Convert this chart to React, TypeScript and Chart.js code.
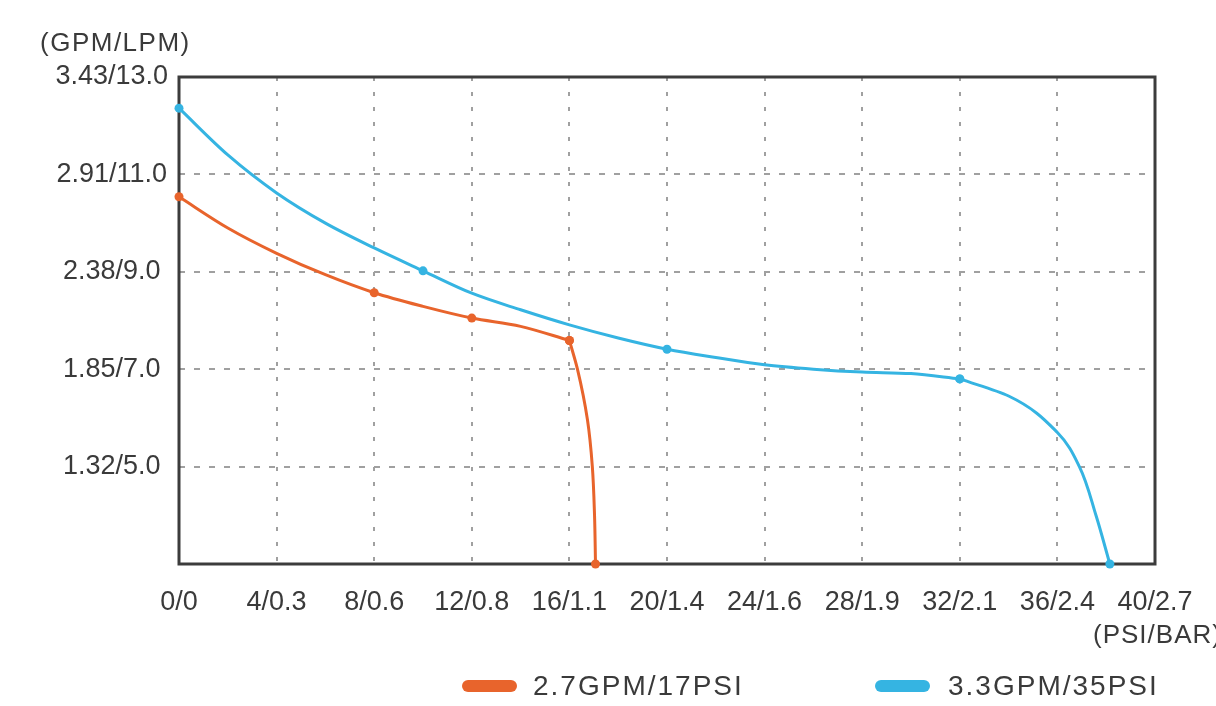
import React, { useEffect, useRef } from "react";
import { Chart, registerables } from "chart.js";

Chart.register(...registerables);

// ---- data ----
const xTickValues = [0, 4, 8, 12, 16, 20, 24, 28, 32, 36, 40];
const xTickLabels = ["0/0", "4/0.3", "8/0.6", "12/0.8", "16/1.1", "20/1.4", "24/1.6", "28/1.9", "32/2.1", "36/2.4", "40/2.7"];
const yTickValues = [3, 5, 7, 9, 11, 13];
const yTickLabels = ["", "1.32/5.0", "1.85/7.0", "2.38/9.0", "2.91/11.0", "3.43/13.0"];

const seriesNames = ["2.7GPM/17PSI", "3.3GPM/35PSI"];

// orange series (PSI, LPM); marked = visible dot
const orangePsi = [0, 2, 4, 6, 8, 10, 12, 14, 16, 16.33, 16.74, 16.94, 17.03, 17.07];
const orangeLpm = [10.54, 9.9, 9.38, 8.94, 8.57, 8.29, 8.05, 7.88, 7.59, 7.0, 5.96, 5.0, 4.0, 3.0];
const orangeMarked = [true, false, false, false, true, false, true, false, true, false, false, false, false, true];
const orangeBend = 8; // index where the curve turns into its drop

// blue series
const bluePsi = [0, 2, 4, 6, 8, 10, 12, 14, 16, 18, 20, 22, 24, 26, 28, 30, 32, 34, 36, 36.9, 37.58, 38.15];
const blueLpm = [12.36, 11.4, 10.62, 10.0, 9.49, 9.02, 8.56, 8.22, 7.91, 7.64, 7.41, 7.24, 7.09, 7.0, 6.94, 6.91, 6.8, 6.45, 5.7, 5.0, 4.0, 3.0];
const blueMarked = [true, false, false, false, false, true, false, false, false, false, true, false, false, false, false, false, true, false, false, false, false, true];
const blueBend = 16;

const xTitle = "(PSI/BAR)";
const yTitle = "(GPM/LPM)";

const ORANGE = "#E8642C";
const BLUE = "#35B4E2";
const TEXT = "#3a3a3a";
const FONT = "'Liberation Sans', Arial, sans-serif";

const toPoints = (xs: number[], ys: number[]) => xs.map((x, i) => ({ x, y: ys[i] }));

function seriesParts(label: string, color: string, xs: number[], ys: number[], marked: boolean[], bend: number) {
  const pts = toPoints(xs, ys);
  const radius = marked.map((m) => (m ? 4.5 : 0));
  const common = {
    borderColor: color,
    backgroundColor: color,
    borderWidth: 3,
    pointBorderWidth: 0,
    cubicInterpolationMode: "monotone",
    fill: false,
    clip: false,
  };
  return [
    { ...common, label, data: pts.slice(0, bend + 1), pointRadius: radius.slice(0, bend + 1), indexAxis: "x" },
    { ...common, label: label + " ", legendHidden: true, data: pts.slice(bend), pointRadius: radius.slice(bend), indexAxis: "y" },
  ];
}

const frameAndText = {
  id: "frameAndText",
  beforeDatasetsDraw(chart: any) {
    const { ctx, chartArea } = chart;
    ctx.save();
    ctx.strokeStyle = "#3c3c3c";
    ctx.lineWidth = 3;
    ctx.setLineDash([]);
    ctx.strokeRect(chartArea.left, chartArea.top, chartArea.right - chartArea.left, chartArea.bottom - chartArea.top);
    ctx.restore();
  },
  afterDraw(chart: any) {
    const { ctx } = chart;
    ctx.save();
    ctx.fillStyle = TEXT;
    ctx.textBaseline = "middle";
    ctx.textAlign = "left";
    ctx.font = `26px ${FONT}`;
    (ctx as any).letterSpacing = "1.5px";
    ctx.fillText(yTitle, 40, 44);
    (ctx as any).letterSpacing = "1px";
    ctx.fillText(xTitle, 1093, 636);

    // legend
    const items = [
      { x: 462, tx: 533 },
      { x: 875, tx: 948 },
    ];
    const shown = chart.data.datasets.filter((ds: any) => !ds.legendHidden);
    shown.forEach((ds: any, i: number) => {
      const it = items[i];
      ctx.fillStyle = ds.borderColor;
      ctx.beginPath();
      const w = 55, h = 12, cy = 686, r = 6;
      ctx.moveTo(it.x + r, cy - h / 2);
      ctx.lineTo(it.x + w - r, cy - h / 2);
      ctx.arc(it.x + w - r, cy, r, -Math.PI / 2, Math.PI / 2);
      ctx.lineTo(it.x + r, cy + h / 2);
      ctx.arc(it.x + r, cy, r, Math.PI / 2, (3 * Math.PI) / 2);
      ctx.closePath();
      ctx.fill();
      ctx.fillStyle = TEXT;
      ctx.font = `28px ${FONT}`;
      (ctx as any).letterSpacing = "2px";
      ctx.fillText(ds.label, it.tx, 687);
    });
    ctx.restore();
  },
};

export default function App() {
  const ref = useRef<HTMLCanvasElement>(null);

  useEffect(() => {
    if (!ref.current) return;
    const chart = new Chart(ref.current, {
      type: "line",
      data: {
        datasets: [
          ...seriesParts(seriesNames[0], ORANGE, orangePsi, orangeLpm, orangeMarked, orangeBend),
          ...seriesParts(seriesNames[1], BLUE, bluePsi, blueLpm, blueMarked, blueBend),
        ],
      },
      options: {
        responsive: false,
        animation: false,
        events: [],
        layout: { padding: { top: 77, right: 61, left: 0, bottom: 0 } },
        plugins: { legend: { display: false }, tooltip: { enabled: false }, title: { display: false } },
        scales: {
          x: {
            type: "linear",
            min: 0,
            max: 40,
            afterBuildTicks: (scale: any) => {
              scale.ticks = xTickValues.map((v) => ({ value: v }));
            },
            afterFit: (scale: any) => {
              scale.height = 142;
            },
            ticks: {
              autoSkip: false,
              maxRotation: 0,
              minRotation: 0,
              padding: 22,
              color: TEXT,
              font: { family: FONT, size: 27 },
              callback: (v: any) => {
                const i = xTickValues.indexOf(Number(v));
                return i >= 0 ? xTickLabels[i] : "";
              },
            },
            grid: { color: "#a0a0a0", lineWidth: 2, drawTicks: false },
            border: { display: false, dash: [4, 11] },
          },
          y: {
            type: "linear",
            min: 3,
            max: 13,
            afterBuildTicks: (scale: any) => {
              scale.ticks = yTickValues.map((v) => ({ value: v }));
            },
            afterFit: (scale: any) => {
              scale.width = 179;
            },
            ticks: {
              padding: 11,
              crossAlign: "center",
              color: TEXT,
              font: { family: FONT, size: 27 },
              callback: (v: any) => {
                const i = yTickValues.indexOf(Number(v));
                return i >= 0 ? yTickLabels[i] : "";
              },
            },
            grid: { color: "#a0a0a0", lineWidth: 2, drawTicks: false },
            border: { display: false, dash: [6, 9] },
          },
        },
      },
      plugins: [frameAndText],
    } as any);
    return () => chart.destroy();
  }, []);

  return (
    <div style={{ position: "fixed", left: 0, top: 0, width: 1216, height: 706, background: "#fff", overflow: "hidden" }}>
      <canvas ref={ref} width={1216} height={706} style={{ display: "block" }} />
    </div>
  );
}
